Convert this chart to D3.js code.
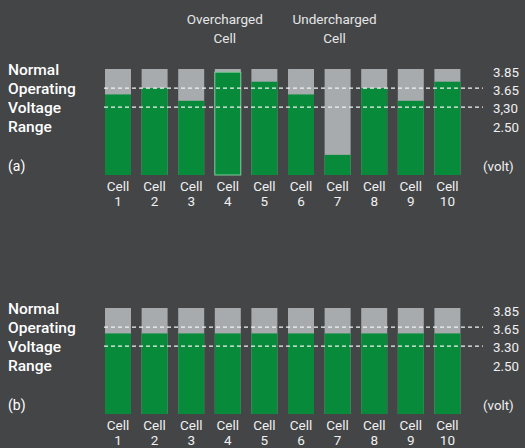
<!DOCTYPE html>
<html>
<head>
<meta charset="utf-8">
<script src="https://cdn.jsdelivr.net/npm/d3@7"></script>
<style>
  html, body { margin: 0; padding: 0; background: #434547; }
  svg { display: block; font-family: Roboto, "Noto Sans", sans-serif; }
</style>
</head>
<body>
<script>
var WIDTH = 525,
    HEIGHT = 448,
    PANEL_OFFSET = 239;

// data
var cells = ['1', '2', '3', '4', '5', '6', '7', '8', '9', '10'];
var levelsA = [76, 82, 70, 97, 88, 76, 19, 82, 70, 88];   // charge level, % of bar
var levelsB = [76, 76, 76, 76, 76, 76, 76, 76, 76, 76];
var thresholds = [82, 64];                                 // 3.65 V and 3.30 V lines
var voltLabelsA = ['3.85', '3.65', '3,30', '2.50'];
var voltLabelsB = ['3.85', '3.65', '3.30', '2.50'];
var sideLabels = ['Normal', 'Operating', 'Voltage', 'Range'];
var notes = [{ cell: '4', text: ['Overcharged', 'Cell'] }, { cell: '7', text: ['Undercharged', 'Cell'] }];

var GREEN = '#078a3a',
    GREY = '#a8abae';

document.addEventListener('DOMContentLoaded', function() {
    var svg = d3.select('body').append('svg')
        .attr('width', WIDTH)
        .attr('height', HEIGHT);

    var x = d3.scaleBand()
        .domain(cells)
        .range([99.7, 465.7])
        .paddingInner(0.29)
        .paddingOuter(0.145);

    var y = d3.scaleLinear()
        .domain([0, 100])
        .range([175, 69]);

    drawPanel(svg.append('g'), x, y, levelsA, voltLabelsA, '(a)');
    drawPanel(svg.append('g').attr('transform', 'translate(0,' + PANEL_OFFSET + ')'), x, y, levelsB, voltLabelsB, '(b)');

    // annotations above panel (a)
    var ann = svg.append('g').selectAll('g')
        .data(notes)
        .enter()
        .append('g');
    ann.each(function(d) {
        var g = d3.select(this);
        d.text.forEach(function(t, i) {
            g.append('text')
                .attr('x', x(d.cell) + x.bandwidth() / 2 - 3)
                .attr('y', 19 + i * 19)
                .attr('dy', '0.35em')
                .attr('text-anchor', 'middle')
                .attr('fill', '#e6e6e6')
                .style('font-size', '13.5px')
                .text(t);
        });
    });
});

function drawPanel(g, x, y, levels, voltLabels, tag) {
    var data = cells.map((c, i) => ({ cell: c, level: levels[i] }));

    // grey full bar
    g.selectAll('rect.bg')
        .data(data)
        .enter()
        .append('rect')
        .attr('class', 'bg')
        .attr('x', d => x(d.cell))
        .attr('width', x.bandwidth())
        .attr('y', y(100))
        .attr('height', y(0) - y(100))
        .attr('fill', GREY);

    // green charge
    g.selectAll('rect.lvl')
        .data(data)
        .enter()
        .append('rect')
        .attr('class', 'lvl')
        .attr('x', d => x(d.cell))
        .attr('width', x.bandwidth())
        .attr('y', d => y(d.level))
        .attr('height', d => y(0) - y(d.level))
        .attr('fill', GREEN)
        .attr('stroke', d => d.level > 95 ? '#7fc99a' : 'none')
        .attr('stroke-width', 1);

    // dashed threshold lines
    g.selectAll('line.th')
        .data(thresholds)
        .enter()
        .append('line')
        .attr('x1', 104)
        .attr('x2', 483)
        .attr('y1', d => y(d))
        .attr('y2', d => y(d))
        .attr('stroke', '#f2f2f2')
        .attr('stroke-width', 1.2)
        .attr('stroke-dasharray', '4,3');

    // right voltage labels
    var v = d3.scalePoint()
        .domain(voltLabels)
        .range([72, 127]);
    g.selectAll('text.volt')
        .data(voltLabels)
        .enter()
        .append('text')
        .attr('x', 493)
        .attr('y', d => v(d))
        .attr('dy', '0.35em')
        .attr('fill', '#f0f0f0')
        .style('font-size', '13.3px')
        .text(d => d);

    g.append('text')
        .attr('x', 483)
        .attr('y', 166)
        .attr('dy', '0.35em')
        .attr('fill', '#f0f0f0')
        .style('font-size', '13.3px')
        .text('(volt)');

    // left labels
    var s = d3.scalePoint()
        .domain(sideLabels)
        .range([70, 127]);
    g.selectAll('text.side')
        .data(sideLabels)
        .enter()
        .append('text')
        .attr('x', 8)
        .attr('y', d => s(d))
        .attr('dy', '0.35em')
        .attr('fill', '#ffffff')
        .style('font-size', '15.5px')
        .style('font-weight', 500)
        .text(d => d);

    g.append('text')
        .attr('x', 8)
        .attr('y', 166)
        .attr('dy', '0.35em')
        .attr('fill', '#ffffff')
        .style('font-size', '14px')
        .text(tag);

    // cell labels
    var lab = g.selectAll('text.cell')
        .data(cells)
        .enter()
        .append('text')
        .attr('text-anchor', 'middle')
        .attr('fill', '#f0f0f0')
        .style('font-size', '13.5px');
    lab.append('tspan')
        .attr('x', d => x(d) + x.bandwidth() / 2)
        .attr('y', 186.5)
        .attr('dy', '0.35em')
        .text('Cell');
    lab.append('tspan')
        .attr('x', d => x(d) + x.bandwidth() / 2)
        .attr('y', 201)
        .attr('dy', '0.35em')
        .text(d => d);
}
</script>
</body>
</html>
